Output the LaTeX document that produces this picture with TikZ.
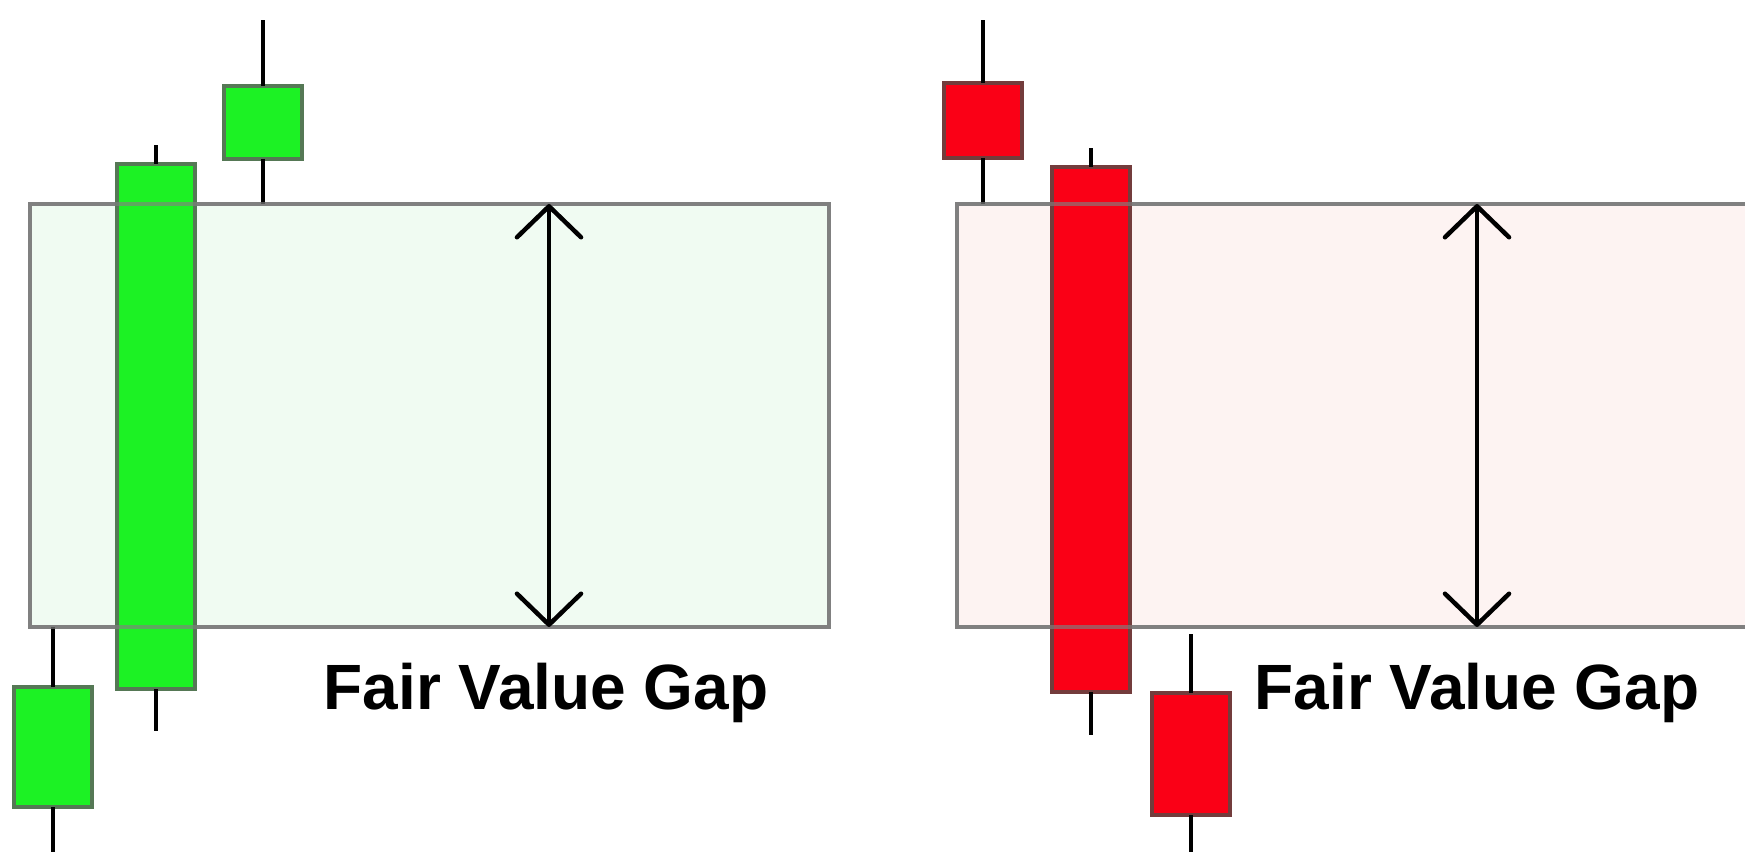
\documentclass[tikz,border=0pt]{standalone}
\usepackage{fontspec}
\newfontfamily\gapfont{Liberation Sans}
\usetikzlibrary{arrows.meta}

\definecolor{bullfill}{RGB}{28,242,36}
\definecolor{bullline}{RGB}{85,120,85}
\definecolor{bearfill}{RGB}{250,0,22}
\definecolor{bearline}{RGB}{115,60,60}
\definecolor{zoneline}{RGB}{128,128,128}
\definecolor{bullzone}{RGB}{240,251,242}
\definecolor{bearzone}{RGB}{253,243,242}

% name, x, wick top, body top, body bottom, wick bottom, style
\newcommand{\candle}[7]{%
  \node[#7, minimum height={(#5-#4)*0.01cm}] (#1) at (#2,{(#4+#5)/2}) {};
  \draw[wick] (#1.north) -- (#2,#3);
  \draw[wick] (#1.south) -- (#2,#6);
}

\begin{document}
\begin{tikzpicture}[
  x=0.01cm, y=-0.01cm,
  body/.style = {
    rectangle, minimum width=0.78cm,
    inner sep=0pt, outer sep=0pt, line width=0.035cm
  },
  bull/.style = {body, draw=bullline, fill=bullfill},
  bear/.style = {body, draw=bearline, fill=bearfill},
  wick/.style = {line width=0.048cm, black},
  zone/.style = {draw=zoneline, line width=0.045cm},
  zoneedge/.style = {draw=zoneline, draw opacity=0.65, line width=0.045cm},
  gaparrow/.style = {
    {Straight Barb[length=3.1mm, width=6.4mm, round]}-{Straight Barb[length=3.1mm, width=6.4mm, round]},
    line width=0.045cm, black
  },
  gaplabel/.style = {
    anchor=base west, inner sep=0pt,
    font=\gapfont\bfseries\fontsize{18.2}{20}\selectfont
  }
]
\useasboundingbox (0,0) rectangle (1745,852);
\clip (0,0) rectangle (1745,852);

% bullish gap
\draw[zone, fill=bullzone] (30,204) rectangle (829,627);
\candle{bullA}{53}{627}{687}{807}{852}{bull}
\candle{bullB}{156}{145}{164}{689}{731}{bull}
\candle{bullC}{263}{20}{86}{159}{204}{bull}
\draw[zoneedge] (30,204) rectangle (829,627);
\coordinate (bullTop) at (549,204);
\coordinate (bullLow) at (549,627);
\draw[gaparrow] (bullLow) -- (bullTop);
\node[gaplabel] (bullText) at (323,709) {Fair Value Gap};

% bearish gap
\draw[zone, fill=bearzone] (957,204) rectangle (1780,627);
\candle{bearA}{983}{20}{83}{158}{204}{bear}
\candle{bearB}{1091}{148}{167}{692}{735}{bear}
\candle{bearC}{1191}{634}{693}{815}{852}{bear}
\draw[zoneedge] (957,204) rectangle (1780,627);
\coordinate (bearTop) at (1477,204);
\coordinate (bearLow) at (1477,627);
\draw[gaparrow] (bearLow) -- (bearTop);
\node[gaplabel] (bearText) at (1254,709) {Fair Value Gap};
\end{tikzpicture}
\end{document}
